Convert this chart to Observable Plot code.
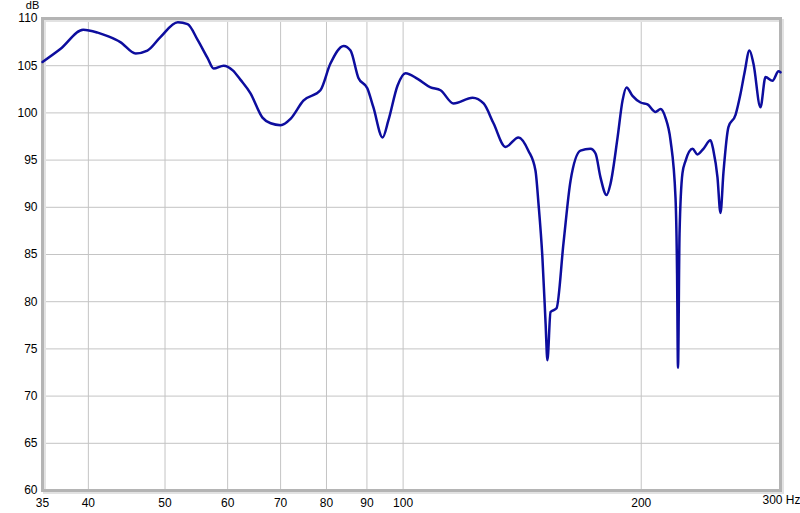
<!DOCTYPE html>
<html>
<head>
<meta charset="utf-8">
<script src="https://cdn.jsdelivr.net/npm/d3@7"></script>
<script src="https://cdn.jsdelivr.net/npm/@observablehq/plot@0.6"></script>
<style>
  body { margin: 0; background: #fff; }
  #chart svg { font-family: "Liberation Sans", Arial, sans-serif; }
</style>
</head>
<body>
<div id="chart"></div>
<script>
const freq = [35, 36.9, 39.4, 41.1, 42.4, 43.9, 45.9, 47.5, 49.3, 51.9, 53.4, 55.0, 56.6, 57.6, 59.3, 60.9, 62.3, 64.1, 66.4, 68.0, 70.0, 72.1, 74.8, 78.6, 80.9, 84.1, 85.8, 87.8, 90.1, 91.7, 94.2, 95.8, 98.4, 100.7, 104.3, 108.3, 111.5, 115.8, 122.4, 126.4, 130.1, 134.7, 139.9, 144.0, 147.0, 148.3, 150.0, 151.4, 152.2, 153.6, 156.3, 159.5, 162.8, 167.6, 172.5, 175.1, 177.6, 180.8, 182.9, 186.7, 189.4, 191.6, 195.0, 199.6, 203.7, 208.5, 211.6, 214.6, 217.8, 221.0, 222.0, 222.6, 223.6, 225.5, 227.5, 232.2, 235.6, 239.7, 244.7, 246.8, 249.7, 251.9, 254.1, 257.8, 263.2, 267.0, 270.1, 274.1, 277.3, 283.0, 287.2, 293.1, 298.3, 300];
const dB = [105.4, 106.8, 108.8, 108.5, 108.1, 107.5, 106.3, 106.6, 108.0, 109.6, 109.4, 107.7, 105.8, 104.7, 105.0, 104.5, 103.5, 102.1, 99.5, 98.9, 98.7, 99.4, 101.3, 102.4, 105.2, 107.1, 106.6, 103.7, 102.6, 100.6, 97.4, 99.2, 102.9, 104.2, 103.6, 102.7, 102.4, 101.0, 101.6, 101.0, 98.9, 96.4, 97.4, 96.0, 93.9, 90.4, 84.7, 77.7, 73.8, 78.9, 79.3, 86.2, 92.8, 96.0, 96.2, 95.7, 93.2, 91.3, 92.5, 97.4, 101.3, 102.7, 101.8, 101.1, 100.9, 100.1, 100.4, 99.5, 97.1, 91.0, 83.0, 73.0, 87.2, 93.6, 94.9, 96.2, 95.6, 96.2, 97.1, 96.0, 93.2, 89.4, 93.7, 98.5, 99.8, 102.0, 104.2, 106.6, 105.2, 100.6, 103.8, 103.4, 104.4, 104.3];
const xTicks = [35, 40, 50, 60, 70, 80, 90, 100, 200];
const xGrid = [40, 50, 60, 70, 80, 90, 100, 200];
const yTicks = [60, 65, 70, 75, 80, 85, 90, 95, 100, 105, 110];
const lastTick = 300;

const data = freq.map((f, i) => ({f, v: dB[i]}));

const chart = Plot.plot({
  width: 800,
  height: 513,
  marginLeft: 42,
  marginRight: 20,
  marginTop: 18,
  marginBottom: 23,
  style: {fontSize: "12px", color: "#000", background: "#fff"},
  x: {type: "log", domain: [35, 300]},
  y: {domain: [60, 110]},
  marks: [
    Plot.gridX(xGrid, {stroke: "#c4c4c4", strokeOpacity: 1, strokeWidth: 1}),
    Plot.gridY(yTicks, {stroke: "#c4c4c4", strokeOpacity: 1, strokeWidth: 1}),
    Plot.frame({stroke: "#e2e2e2", strokeWidth: 3, dx: 2, dy: 2}),
    Plot.frame({stroke: "#b4b4b4", strokeWidth: 3}),
    Plot.axisX(xTicks, {tickSize: 0, tickPadding: 8, label: null, tickFormat: d => String(d)}),
    Plot.text([lastTick], {x: d => d, frameAnchor: "bottom", text: d => d + " Hz", textAnchor: "start", dx: -18, dy: 13, fontSize: 12}),
    Plot.axisY(yTicks, {tickSize: 0, tickPadding: 5, label: null}),
    Plot.text(["dB"], {frameAnchor: "top-left", text: d => d, dx: -10, dy: -13.5, textAnchor: "middle", lineAnchor: "middle", fontSize: 11}),
    Plot.line(data, {x: "f", y: "v", stroke: "#0d0d9e", strokeWidth: 2.5, curve: "monotone-x"})
  ]
});
document.getElementById("chart").appendChild(chart);
</script>
</body>
</html>
